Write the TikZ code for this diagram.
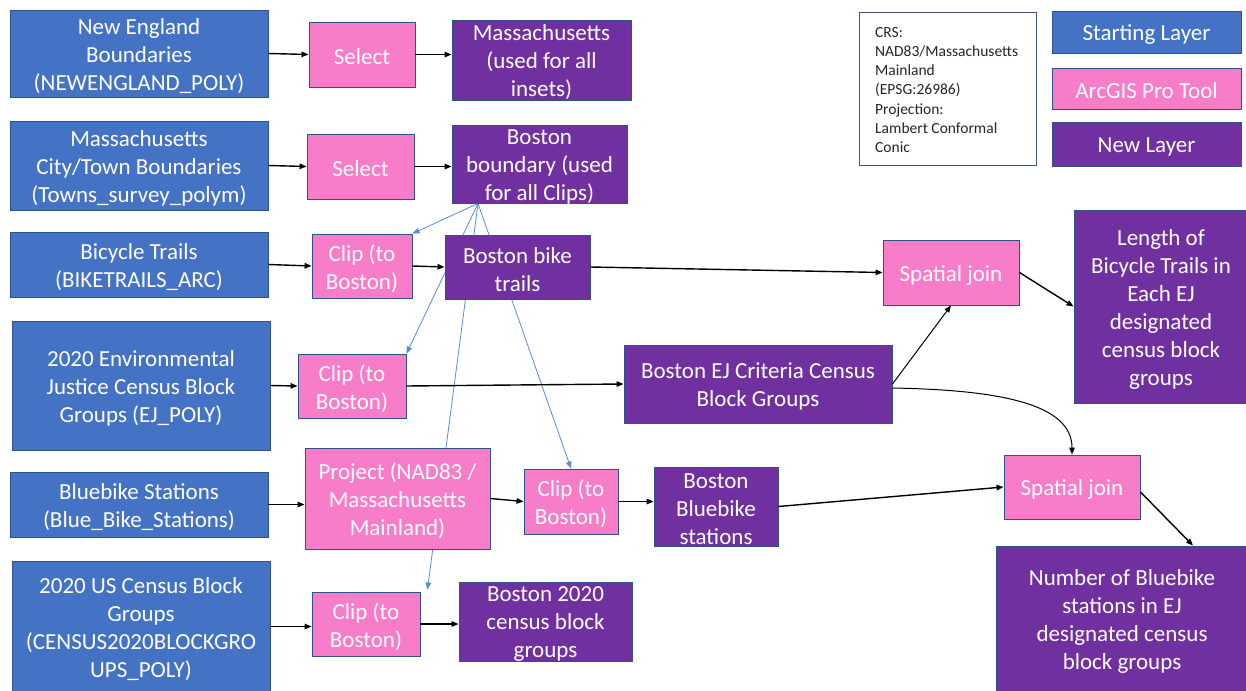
\documentclass[tikz,border=0pt]{standalone}
\usepackage{fontspec}
\setmainfont{Carlito}
\usetikzlibrary{arrows.meta}
\definecolor{sblue}{HTML}{4472C4}
\definecolor{tpink}{HTML}{F87DC9}
\definecolor{npurple}{HTML}{7030A0}
\definecolor{bord}{HTML}{2F528F}
\definecolor{lnblue}{HTML}{5B8BD6}
\definecolor{crsbord}{HTML}{44546A}
\pgfdeclarelayer{bg}
\pgfdeclarelayer{paper}
\pgfsetlayers{paper,bg,main}
\newcommand{\bx}[7]{\node[#2, minimum width={(#5-#3)*1pt}, minimum height={(#6-#4)*1pt}] (#1) at ({(#3+#5)/2},{(#4+#6)/2}) {};
  \node[boxtext] (#1-t) at ([yshift=-2.5pt]#1.center) {#7};}
\tikzset{
  box/.style={draw=bord, line width=0.9pt, inner sep=0pt},
  boxtext/.style={inner sep=0pt, align=center, text=white, font=\fontsize{23}{28}\selectfont},
  sbox/.style={box, fill=sblue},
  tbox/.style={box, fill=tpink},
  nbox/.style={box, fill=npurple},
  arr/.style={-{Triangle[length=7pt,width=5.5pt]}, line width=1.4pt, black},
  barr/.style={-{Triangle[length=7pt,width=5.5pt]}, line width=0.8pt, lnblue},
  crs/.style={draw=crsbord, line width=0.9pt, fill=white},
}
\begin{document}
\begin{tikzpicture}[x=1pt,y=-1pt]
\useasboundingbox (0,0) rectangle (1246,690);
\begin{pgfonlayer}{paper}
\fill[white] (0,0) rectangle (1246,690);
\end{pgfonlayer}
% starting layers
\bx{ne}{sbox}{10}{10}{268}{97}{New England\\Boundaries\\(NEWENGLAND\_POLY)}
\bx{towns}{sbox}{10}{121}{268}{210}{Massachusetts\\City/Town Boundaries\\(Towns\_survey\_polym)}
\bx{bike}{sbox}{10}{232}{268}{297}{Bicycle Trails\\(BIKETRAILS\_ARC)}
\bx{ej}{sbox}{12}{321}{270}{450}{2020 Environmental\\Justice Census Block\\Groups (EJ\_POLY)}
\bx{blue}{sbox}{10}{472}{268}{537}{Bluebike Stations\\(Blue\_Bike\_Stations)}
\bx{cen}{sbox}{12}{561}{270}{692}{2020 US Census Block\\Groups\\(CENSUS2020BLOCKGRO\\UPS\_POLY)}
% tools
\bx{sel1}{tbox}{309}{22}{415}{87}{Select}
\bx{sel2}{tbox}{307}{134}{414}{199}{Select}
\bx{clip1}{tbox}{312}{234}{412}{298}{Clip (to\\Boston)}
\bx{clip2}{tbox}{298}{354}{406}{418}{Clip (to\\Boston)}
\bx{proj}{tbox}{305}{448}{490}{549}{Project (NAD83 /\\Massachusetts\\Mainland)}
\bx{clip3}{tbox}{524}{469}{618}{534}{Clip (to\\Boston)}
\bx{clip4}{tbox}{312}{592}{420}{656}{Clip (to\\Boston)}
\bx{sj1}{tbox}{883}{240}{1019}{305}{Spatial join}
\bx{sj2}{tbox}{1004}{455}{1140}{519}{Spatial join}
% new layers
\bx{ma}{nbox}{452}{20}{631}{100}{Massachusetts\\(used for all\\insets)}
\bx{bnd}{nbox}{452}{125}{627}{203}{Boston\\boundary (used\\for all Clips)}
\bx{trails}{nbox}{445}{235}{590}{299}{Boston bike\\trails}
\bx{bej}{nbox}{624}{345}{892}{423}{Boston EJ Criteria Census\\Block Groups}
\bx{bbs}{nbox}{654}{467}{778}{546}{Boston\\Bluebike\\stations}
\bx{b2020}{nbox}{459}{582}{632}{661}{Boston 2020\\census block\\groups}
\bx{len}{nbox}{1074}{210}{1248}{403}{Length of\\Bicycle Trails in\\Each EJ\\designated\\census block\\groups}
\bx{num}{nbox}{996}{546}{1248}{692}{Number of Bluebike\\stations in EJ\\designated census\\block groups}
% legend
\node[crs, minimum width=177pt, minimum height=153pt, inner sep=0pt] (crsbox) at (947.5,88.5) {};
\node[anchor=north west, inner sep=0pt, align=left, text=black!85, font=\fontsize{15.5}{19.2}\selectfont] (crstext) at (875,27) {CRS:\\NAD83/Massachusetts\\Mainland\\(EPSG:26986)\\Projection:\\Lambert Conformal\\Conic};
\bx{legs}{sbox}{1052}{11}{1241}{53}{Starting Layer}
\bx{legt}{tbox}{1052}{68}{1241}{109}{ArcGIS Pro Tool}
\bx{legn}{nbox}{1052}{122}{1241}{166}{New Layer}
% black connectors
\draw[arr] (ne.east) -- (sel1.west);
\draw[arr] (sel1.east) -- (sel1.east -| ma.west);
\draw[arr] (towns.east) -- (sel2.west);
\draw[arr] (sel2.east) -- (sel2.east -| bnd.west);
\draw[arr] (bike.east) -- (clip1.west);
\draw[arr] (clip1.east) -- (trails.west);
\draw[arr] (trails.east) -- (sj1.west);
\draw[arr] (ej.east) -- (clip2.west);
\draw[arr] (clip2.east) -- (bej.west);
\draw[arr, line width=1pt] (bej.east) -- (sj1.south);
\draw[arr, line width=1pt] ([yshift=-4pt]bej.east) .. controls +(110,2) and +(0,-50) .. (sj2.north);
\draw[arr] (sj1.east) -- (len.west);
\draw[arr] (blue.east) -- (blue.east -| proj.west);
\draw[arr] (proj.east) -- (clip3.west);
\draw[arr] (clip3.east) -- (clip3.east -| bbs.west);
\draw[arr] (bbs.east) -- (sj2.west);
\draw[arr] ([yshift=-5pt]sj2.east) -- ([xshift=71pt]num.north);
\draw[arr] (cen.east) -- (cen.east -| clip4.west);
\draw[arr] (clip4.east) -- (clip4.east -| b2020.west);
% blue connectors from Boston boundary
\coordinate (bsrc) at ([xshift=-61.5pt]bnd.south);
\begin{pgfonlayer}{bg}
\draw[barr] (bsrc) -- (clip1.north east);
\draw[barr] (bsrc) -- (clip2.north east);
\draw[barr] (bsrc) -- (clip3.north);
\draw[barr] (bsrc) -- ([xshift=7pt,yshift=2pt]clip4.north east);
\end{pgfonlayer}
\end{tikzpicture}
\end{document}
